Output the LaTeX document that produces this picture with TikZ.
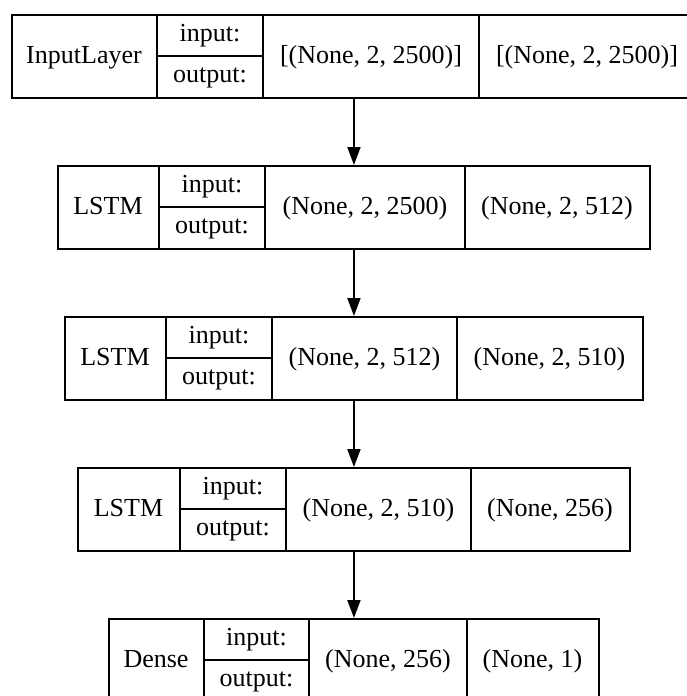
\documentclass[tikz,border=0pt]{standalone}
\usepackage{fontspec}
\setmainfont{Liberation Serif}
\usetikzlibrary{arrows.meta}
\begin{document}
\begin{tikzpicture}[x=1pt,y=1pt,
  every node/.style={font=\fontsize{26}{30}\selectfont},
  layerbox/.style={draw, line width=1.9pt, inner sep=0pt, anchor=north west, minimum height=83pt},
  rule/.style={line width=1.9pt},
  txt/.style={anchor=base, inner sep=0pt},
  flow/.style={line width=1.9pt, -{Triangle[length=18pt,width=13pt]}}]
\useasboundingbox (0,0) rectangle (686,-696);
\foreach \id/\T/\L/\da/\db/\dc/\R/\lab/\sin/\sout in {
  1/14/11/157/263/479/695/InputLayer/{[(None, 2, 2500)]}/{[(None, 2, 2500)]},
  2/165/57/159/265/465/649/LSTM/{(None, 2, 2500)}/{(None, 2, 512)},
  3/316/64/166/272/457/642/LSTM/{(None, 2, 512)}/{(None, 2, 510)},
  4/467/77/180/286/471/629/LSTM/{(None, 2, 510)}/{(None, 256)},
  5/618/108/204/309/467/598/Dense/{(None, 256)}/{(None, 1)}}{
  \node[layerbox, minimum width={(\R-\L)*1pt}] (b\id) at (\L,-\T) {};
  \draw[rule] (\da,-\T) -- (\da,-\T-83);
  \draw[rule] (\db,-\T) -- (\db,-\T-83);
  \draw[rule] (\dc,-\T) -- (\dc,-\T-83);
  \draw[rule] (\da,-\T-42) -- (\db,-\T-42);
  \node[txt] (lab\id) at ({(\L+\da)/2},{-\T-49}) {\lab};
  \node[txt] (in\id) at ({(\da+\db)/2},{-\T-27.7}) {input:};
  \node[txt] (out\id) at ({(\da+\db)/2},{-\T-68}) {output:};
  \node[txt] (si\id) at ({(\db+\dc)/2},{-\T-49}) {\sin};
  \node[txt] (so\id) at ({(\dc+\R)/2},{-\T-49}) {\sout};
}
\draw[flow] (b1.south) -- (b1.south |- b2.north);
\draw[flow] (b2.south) -- (b2.south |- b3.north);
\draw[flow] (b3.south) -- (b3.south |- b4.north);
\draw[flow] (b4.south) -- (b4.south |- b5.north);
\end{tikzpicture}
\end{document}
